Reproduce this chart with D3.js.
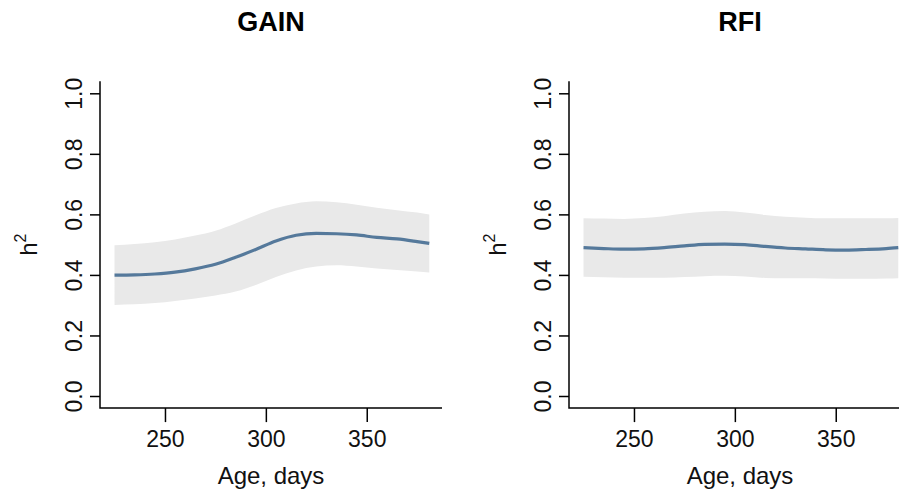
<!DOCTYPE html>
<html>
<head>
<meta charset="utf-8">
<script src="https://cdn.jsdelivr.net/npm/d3@7"></script>
<style>
  html, body { margin: 0; padding: 0; background: #ffffff; }
  svg { display: block; font-family: "Liberation Sans", Arial, Helvetica, sans-serif; }
</style>
</head>
<body>
<svg id="chart" width="899" height="499"></svg>
<script>
// ---- data ----
const panelTitles = ["GAIN", "RFI"];
const ageDays   = [225, 235, 245, 255, 265, 275, 285, 295, 305, 315, 325, 335, 345, 355, 365, 375, 381];
const gainH2    = [0.399, 0.400, 0.403, 0.409, 0.420, 0.435, 0.458, 0.484, 0.512, 0.531, 0.537, 0.536, 0.532, 0.524, 0.519, 0.510, 0.504];
const gainUpper = [0.498, 0.502, 0.508, 0.517, 0.530, 0.546, 0.570, 0.597, 0.621, 0.636, 0.643, 0.640, 0.632, 0.622, 0.614, 0.606, 0.600];
const gainLower = [0.301, 0.303, 0.307, 0.314, 0.322, 0.332, 0.345, 0.367, 0.393, 0.415, 0.428, 0.432, 0.428, 0.421, 0.416, 0.411, 0.408];
const rfiH2     = [0.490, 0.487, 0.485, 0.486, 0.490, 0.496, 0.501, 0.502, 0.500, 0.494, 0.489, 0.486, 0.483, 0.482, 0.484, 0.487, 0.490];
const rfiUpper  = [0.587, 0.586, 0.585, 0.588, 0.594, 0.603, 0.609, 0.611, 0.606, 0.598, 0.592, 0.589, 0.587, 0.587, 0.587, 0.587, 0.588];
const rfiLower  = [0.394, 0.392, 0.391, 0.391, 0.391, 0.393, 0.396, 0.397, 0.395, 0.390, 0.389, 0.389, 0.388, 0.387, 0.387, 0.388, 0.389];
const xTicks = [250, 300, 350];
const yTicks = [0.0, 0.2, 0.4, 0.6, 0.8, 1.0];
const xLabel = "Age, days";

const bandColor = "#e9e9e9";
const lineColor = "#55799b";

const svg = d3.select("#chart");

function drawPanel(offsetX, title, mean, lower, upper) {
  const g = svg.append("g").attr("transform", `translate(${offsetX},0)`);
  const x = d3.scaleLinear().domain([217.8, 387.3]).range([100, 442]);
  const y = d3.scaleLinear().domain([0, 1]).range([396, 93.3]);
  const rows = ageDays.map((d, i) => ({ d, m: mean[i], lo: lower[i], hi: upper[i] }));

  // confidence band
  g.append("path")
    .datum(rows)
    .attr("fill", bandColor)
    .attr("d", d3.area().curve(d3.curveMonotoneX)
      .x(r => x(r.d)).y0(r => y(r.lo)).y1(r => y(r.hi)));

  // mean line
  g.append("path")
    .datum(rows)
    .attr("fill", "none")
    .attr("stroke", lineColor)
    .attr("stroke-width", 3.2)
    .attr("stroke-linejoin", "round")
    .attr("d", d3.line().curve(d3.curveMonotoneX).x(r => x(r.d)).y(r => y(r.m)));

  // L-shaped box
  const yTop = y(1.04), yBot = y(-0.04);
  g.append("path")
    .attr("fill", "none").attr("stroke", "#000").attr("stroke-width", 1.5)
    .attr("d", `M${x.range()[0]},${yTop}V${yBot}H${x.range()[1]}`);

  // y axis
  const ya = g.append("g").attr("transform", `translate(${x.range()[0]},0)`)
    .call(d3.axisLeft(y).tickValues(yTicks).tickFormat(d3.format(".1f")).tickSize(10).tickSizeOuter(0));
  ya.select(".domain").remove();
  ya.selectAll(".tick line").attr("stroke", "#000").attr("stroke-width", 1.5);
  ya.selectAll(".tick text")
    .attr("transform", "rotate(-90)")
    .attr("x", 0).attr("y", -18).attr("dy", 0)
    .attr("text-anchor", "middle")
    .attr("fill", "#111")
    .style("font-size", "23px")
    .style("font-family", '"Liberation Sans", Arial, sans-serif');

  // x axis
  const xa = g.append("g").attr("transform", `translate(0,${yBot})`)
    .call(d3.axisBottom(x).tickValues(xTicks).tickFormat(d3.format("d")).tickSize(14).tickSizeOuter(0));
  xa.select(".domain").remove();
  xa.selectAll(".tick line").attr("stroke", "#000").attr("stroke-width", 1.5);
  xa.selectAll(".tick text")
    .attr("y", 39).attr("dy", 0)
    .attr("fill", "#111")
    .style("font-size", "23px")
    .style("font-family", '"Liberation Sans", Arial, sans-serif');

  const cx = (x.range()[0] + x.range()[1]) / 2;
  // title
  g.append("text")
    .attr("x", cx).attr("y", 31)
    .attr("text-anchor", "middle")
    .style("font-size", "27px").style("font-weight", "bold")
    .attr("fill", "#000")
    .text(title);

  // x label
  g.append("text")
    .attr("x", cx).attr("y", 484)
    .attr("text-anchor", "middle")
    .style("font-size", "24px")
    .attr("fill", "#111")
    .text(xLabel);

  // y label h²
  const yl = g.append("text")
    .attr("transform", `translate(37,${(yTop + yBot) / 2}) rotate(-90)`)
    .attr("text-anchor", "middle")
    .style("font-size", "24px")
    .attr("fill", "#111");
  yl.append("tspan").text("h");
  yl.append("tspan").attr("dy", -11).style("font-size", "16px").text("2");
}

drawPanel(0, panelTitles[0], gainH2, gainLower, gainUpper);
drawPanel(469, panelTitles[1], rfiH2, rfiLower, rfiUpper);
</script>
</body>
</html>
